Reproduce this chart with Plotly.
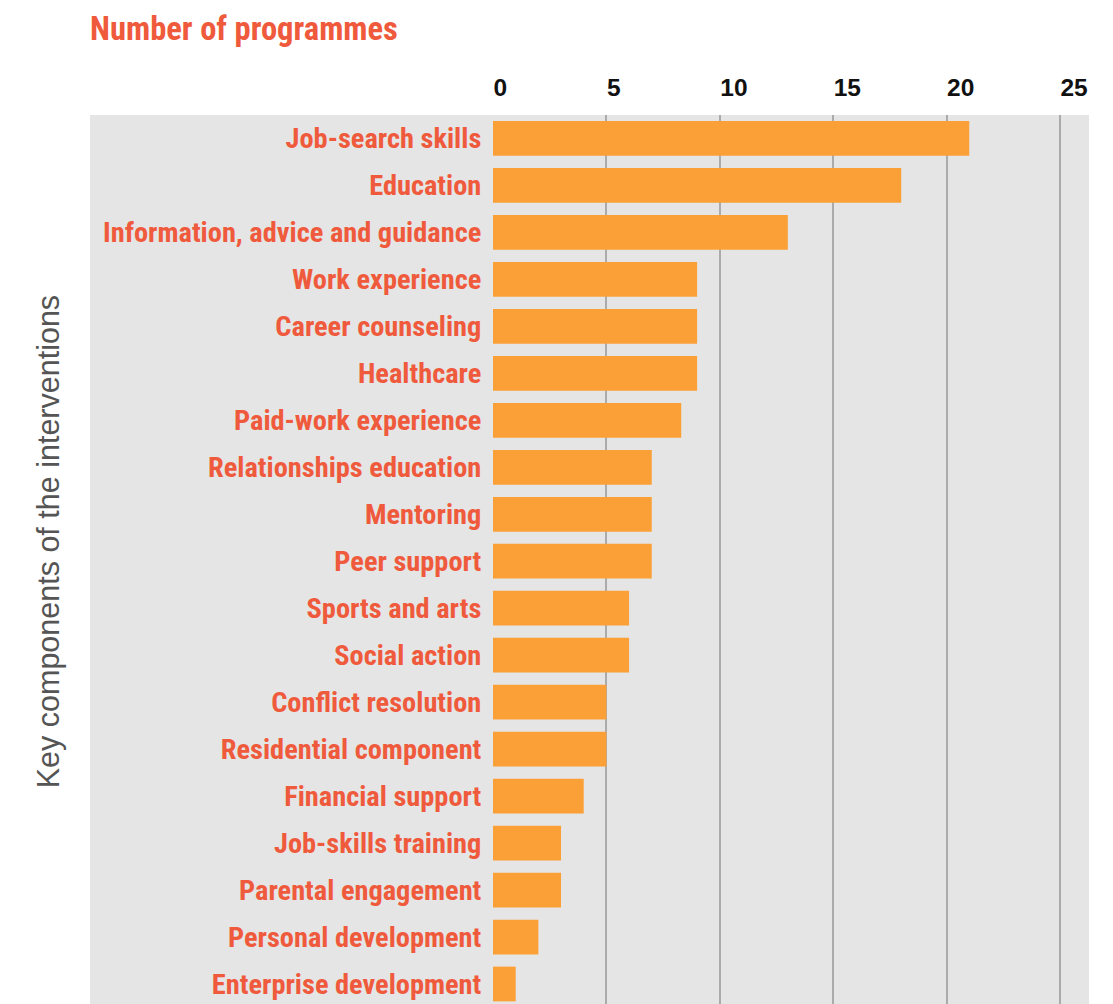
import plotly.graph_objects as go

categories = [
    "Job-search skills", "Education", "Information, advice and guidance",
    "Work experience", "Career counseling", "Healthcare", "Paid-work experience",
    "Relationships education", "Mentoring", "Peer support", "Sports and arts",
    "Social action", "Conflict resolution", "Residential component",
    "Financial support", "Job-skills training", "Parental engagement",
    "Personal development", "Enterprise development",
]
values = [21, 18, 13, 9, 9, 9, 8.3, 7, 7, 7, 6, 6, 5, 5, 4, 3, 3, 2, 1]
x_ticks = [0, 5, 10, 15, 20, 25]

LABEL_COLOR = "#F05A3C"
BAR_COLOR = "#FBA037"
PANEL = "#E5E5E5"
NARROW = "Roboto Condensed, Open Sans Condensed, sans-serif"

W, H = 1113, 1004
L, R, T, B = 493, W - 1089, 114.5, 0
plot_w = W - L - R

fig = go.Figure(go.Bar(
    y=categories, x=values, orientation="h",
    marker=dict(color=BAR_COLOR, line=dict(width=0)),
    width=0.74, hoverinfo="x+y",
))

fig.update_layout(
    width=W, height=H,
    margin=dict(l=L, r=R, t=T, b=B, pad=0, autoexpand=False),
    paper_bgcolor="white", plot_bgcolor=PANEL,
    showlegend=False,
    xaxis=dict(
        side="top", range=[0, 26.28], tickvals=x_ticks,
        ticktext=[str(v) for v in x_ticks],
        ticklabelposition="outside right", ticklabelstandoff=8,
        showgrid=True, gridcolor="#ABABAB", gridwidth=1.5,
        zeroline=False, showline=False, automargin=False,
        ticks="outside", ticklen=21, tickcolor="rgba(0,0,0,0)",
        tickfont=dict(family="Liberation Sans, Arial, sans-serif", size=24.5, color="#111", weight="bold"),
        fixedrange=True,
    ),
    yaxis=dict(
        type="category", categoryorder="array", categoryarray=categories,
        range=[18.426, -0.5], showgrid=False, zeroline=False, showline=False,
        automargin=False,
        ticks="outside", ticklen=5, tickcolor="rgba(0,0,0,0)",
        tickfont=dict(family=NARROW, size=28.4, color=LABEL_COLOR, weight="bold"),
        fixedrange=True,
    ),
    shapes=[dict(
        type="rect", xref="paper", yref="paper",
        x0=(90 - L) / plot_w, x1=1, y0=0, y1=1,
        fillcolor=PANEL, line=dict(width=0), layer="below",
    )],
    annotations=[
        dict(text="Number of programmes", xref="paper", yref="paper",
             x=(88 - L) / plot_w, y=1 + (T - 28) / (H - T), xanchor="left", yanchor="middle",
             showarrow=False,
             font=dict(family=NARROW, size=32.6, color=LABEL_COLOR, weight="bold")),
        dict(text="Key components of the interventions", xref="paper", yref="paper",
             x=(48 - L) / plot_w, y=1 - (542 - T) / (H - T), xanchor="center", yanchor="middle",
             textangle=-90, showarrow=False,
             font=dict(family="Liberation Sans, Arial, sans-serif", size=30.5, color="#555555")),
    ],
)

fig.write_html("out.html")
